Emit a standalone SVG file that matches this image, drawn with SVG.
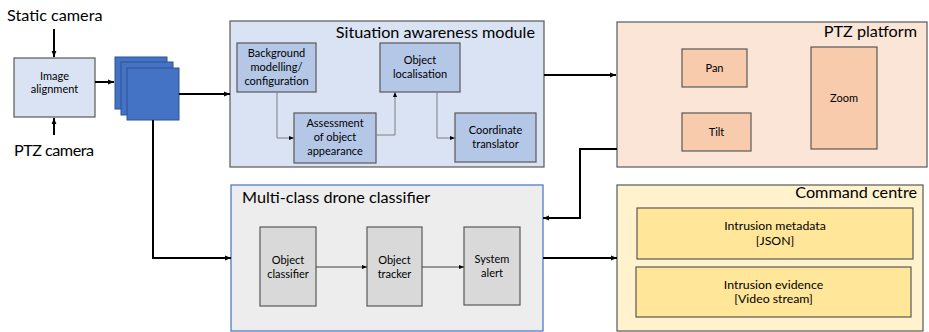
<svg xmlns="http://www.w3.org/2000/svg" width="929" height="332" viewBox="0 0 929 332">
<defs>
<marker id="ah" viewBox="0 0 10 10" refX="10" refY="5" markerWidth="6" markerHeight="6" markerUnits="userSpaceOnUse" orient="auto"><path d="M0,1 L10,5 L0,9 z" fill="#000"/></marker>
<marker id="ahs" viewBox="0 0 10 10" refX="10" refY="5" markerWidth="5" markerHeight="5" markerUnits="userSpaceOnUse" orient="auto"><path d="M0,1 L10,5 L0,9 z" fill="#000"/></marker>
</defs>
<style>
text{font-family:Lato,"Open Sans","Liberation Sans",sans-serif;fill:#000}
.big{font-size:16.2px}
.sm{font-size:11px;text-anchor:middle}
.md{font-size:12.3px;text-anchor:middle}
.main{fill:none;stroke:#000;stroke-width:2}
.thin{fill:none;stroke:#7f7f7f;stroke-width:1}
.thinb{fill:none;stroke:#404040;stroke-width:1}
.box{stroke:#595959;stroke-width:1.2}
</style>
<rect width="929" height="332" fill="#fff"/>
<g id="static-camera"><text class="big" x="7" y="21">Static camera</text></g>
<g id="ptz-camera"><text class="big" x="14" y="156" textLength="80">PTZ camera</text></g>
<g id="image-alignment"><rect class="box" x="14" y="58" width="81" height="59" fill="#DAE3F3"/><text class="sm" x="54.5" y="80">Image</text><text class="sm" x="54.5" y="93">alignment</text></g>
<g id="frames">
<rect x="115" y="57" width="52" height="52" fill="#4472C4" stroke="#2F528F" stroke-width="1"/>
<rect x="121" y="62" width="52" height="53" fill="#4472C4" stroke="#2F528F" stroke-width="1"/>
<rect x="127" y="68" width="52" height="52" fill="#4472C4" stroke="#2F528F" stroke-width="1"/>
</g>
<g id="situation-awareness">
<rect class="box" x="230" y="21" width="314" height="146" fill="#DAE3F3"/>
<text class="big" x="535" y="38" text-anchor="end">Situation awareness module</text>
</g>
<g id="background-modelling"><rect class="box" x="237" y="43" width="79" height="49" fill="#B4C7E7"/><text class="sm" x="276.5" y="57">Background</text><text class="sm" x="276.5" y="71">modelling/</text><text class="sm" x="276.5" y="85">configuration</text></g>
<g id="assessment"><rect class="box" x="294" y="113" width="82" height="50" fill="#B4C7E7"/><text class="sm" x="335" y="127">Assessment</text><text class="sm" x="335" y="141">of object</text><text class="sm" x="335" y="155">appearance</text></g>
<g id="object-localisation"><rect class="box" x="380" y="43" width="80" height="49" fill="#B4C7E7"/><text class="sm" x="420" y="64">Object</text><text class="sm" x="420" y="78">localisation</text></g>
<g id="coordinate-translator"><rect class="box" x="455" y="113" width="81" height="49" fill="#B4C7E7"/><text class="sm" x="495.5" y="134">Coordinate</text><text class="sm" x="495.5" y="148">translator</text></g>
<g id="ptz-platform">
<rect class="box" x="617" y="22" width="310" height="145" fill="#FBE5D6"/>
<text class="big" x="917" y="37" text-anchor="end">PTZ platform</text>
</g>
<g id="pan"><rect class="box" x="682" y="49" width="65" height="38" fill="#F8CBAD"/><text class="sm" x="714.5" y="72">Pan</text></g>
<g id="tilt"><rect class="box" x="682" y="113" width="69" height="38" fill="#F8CBAD"/><text class="sm" x="716.5" y="136">Tilt</text></g>
<g id="zoom"><rect class="box" x="811" y="47" width="66" height="102" fill="#F8CBAD"/><text class="sm" x="844" y="102">Zoom</text></g>
<g id="multi-class">
<rect x="231" y="185" width="312" height="146" fill="#EDEDED" stroke="#4472C4" stroke-width="1.2"/>
<text class="big" x="242" y="203">Multi-class drone classifier</text>
</g>
<g id="object-classifier"><rect class="box" x="260" y="227" width="56" height="79" fill="#D9D9D9"/><text class="sm" x="288" y="264">Object</text><text class="sm" x="288" y="278">classifier</text></g>
<g id="object-tracker"><rect class="box" x="367" y="227" width="55" height="79" fill="#D9D9D9"/><text class="sm" x="394.5" y="264">Object</text><text class="sm" x="394.5" y="278">tracker</text></g>
<g id="system-alert"><rect class="box" x="464" y="227" width="56" height="78" fill="#D9D9D9"/><text class="sm" x="492" y="263">System</text><text class="sm" x="492" y="277">alert</text></g>
<g id="command-centre">
<rect class="box" x="617" y="185" width="306" height="146" fill="#FFF2CC"/>
<text class="big" x="917" y="198" text-anchor="end">Command centre</text>
</g>
<g id="intrusion-metadata"><rect class="box" x="637" y="208" width="276" height="51" fill="#FFE699"/><text class="md" x="775" y="230">Intrusion metadata</text><text class="md" x="775" y="245">[JSON]</text></g>
<g id="intrusion-evidence"><rect class="box" x="636" y="267" width="275" height="50" fill="#FFE699"/><text class="md" x="773.5" y="289">Intrusion evidence</text><text class="md" x="773.5" y="303">[Video stream]</text></g>
<g id="connectors">
<path class="main" d="M54,29 V57" marker-end="url(#ah)"/>
<path class="main" d="M54,135 V118" marker-end="url(#ah)"/>
<path class="main" d="M95,82 H114" marker-end="url(#ah)"/>
<path class="main" d="M179,94 H230" marker-end="url(#ah)"/>
<path class="main" d="M153,120 V258 H231" marker-end="url(#ah)"/>
<path class="main" d="M544,75 H616" marker-end="url(#ah)"/>
<path class="main" d="M617,149 H580 V218 H543" marker-end="url(#ah)"/>
<path class="main" d="M543,258 H617" marker-end="url(#ah)"/>
<path class="thin" d="M277,92 V138 H294" marker-end="url(#ahs)"/>
<path class="thin" d="M376,135 H395 V92" marker-end="url(#ahs)"/>
<path class="thin" d="M437,92 V138 H455" marker-end="url(#ahs)"/>
<path class="thinb" d="M316,267 H367" marker-end="url(#ahs)"/>
<path class="thinb" d="M422,267 H464" marker-end="url(#ahs)"/>
</g>
</svg>
